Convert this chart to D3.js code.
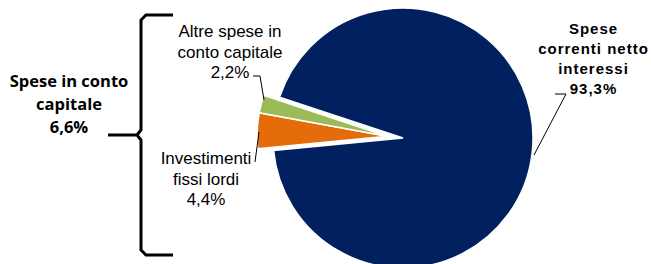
<!DOCTYPE html>
<html><head><meta charset="utf-8">
<script src="https://cdn.jsdelivr.net/npm/d3@7"></script>
<style>body{margin:0;background:#fff}</style>
</head><body>
<svg id="c" width="651" height="264"></svg>
<script>
const categories = ["Spese correnti netto interessi", "Investimenti fissi lordi", "Altre spese in conto capitale"];
const values = [93.3, 4.4, 2.2];
const colors = ["#002060", "#E46C0A", "#9BBB59"];
const exploded = [false, true, true];
const groupLabel = ["Spese in conto", "capitale", "6,6%"];
const labelLines = [
  ["Spese", "correnti netto", "interessi", "93,3%"],
  ["Investimenti", "fissi lordi", "4,4%"],
  ["Altre spese in", "conto capitale", "2,2%"]
];

const svg = d3.select("#c");
const cx = 403, cy = 138, r = 130;
const start = 288.3 * Math.PI / 180;
const pie = d3.pie().sort(null).value(d => d).startAngle(start).endAngle(start + 2 * Math.PI);
const arcs = pie(values);
const arc = d3.arc().innerRadius(0).outerRadius(r);

const exA = arcs.filter((a, i) => exploded[i]);
const mid = (d3.min(exA, a => a.startAngle) + d3.max(exA, a => a.endAngle)) / 2;
const off = 16;
const ox = off * Math.sin(mid), oy = -off * Math.cos(mid);

const g = svg.append("g").attr("transform", `translate(${cx},${cy})`);
g.selectAll("path").data(arcs).join("path")
  .attr("d", arc)
  .attr("transform", (d, i) => exploded[i] ? `translate(${ox},${oy})` : null)
  .attr("fill", (d, i) => colors[i])
  .attr("stroke", "#fff").attr("stroke-width", 1.5).attr("stroke-linejoin", "miter");

function txt(lines, x, y0, lh, opts) {
  const t = svg.append("text").attr("text-anchor", "middle")
    .attr("font-family", opts.family).attr("font-size", opts.size)
    .attr("font-weight", opts.weight || "normal").attr("fill", "#000")
    .attr("letter-spacing", opts.ls || 0);
  lines.forEach((l, i) => t.append("tspan").attr("x", x + (opts.ls ? opts.ls / 2 : 0)).attr("y", y0 + i * lh).text(l));
}

txt(labelLines[0], 593, 34, 20, {family: "Liberation Sans, Arial", size: 15, weight: "bold", ls: 1});
txt(labelLines[2], 230, 37, 20.5, {family: "Liberation Sans, Arial", size: 17});
txt(labelLines[1], 206, 164, 20.5, {family: "Liberation Sans, Arial", size: 17});
txt(groupLabel, 69, 87, 23, {family: "Open Sans", size: 16.5, weight: "bold"});

const line = d3.line();
function poly(pts, w) {
  svg.append("path").attr("d", line(pts)).attr("fill", "none")
    .attr("stroke", "#000").attr("stroke-width", w || 1);
}
poly([[555, 94], [566, 94], [534, 155]]);
poly([[253, 76], [260, 76], [264, 100]]);
poly([[255, 162], [259, 132]]);

// brace
poly([[173, 15], [146, 15], [141, 20], [141, 130], [137, 135], [108, 135], [137, 135], [141, 140], [141, 250], [146, 255], [173, 255]], 3);
</script>
</body></html>
